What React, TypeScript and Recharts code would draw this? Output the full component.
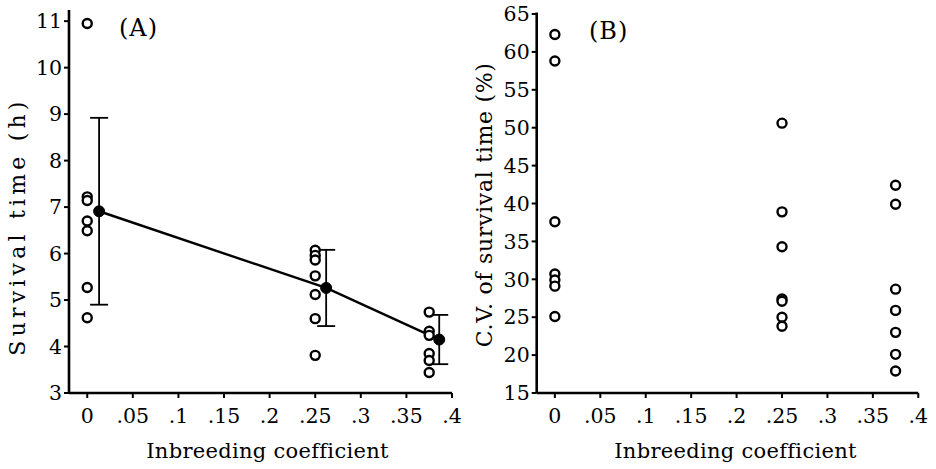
import React from 'react';
import { ComposedChart, Scatter, Line, XAxis, YAxis, ErrorBar, Label } from 'recharts';

const FONT = '"DejaVu Serif", "Liberation Serif", serif';

const xTicks = [0, 0.05, 0.1, 0.15, 0.2, 0.25, 0.3, 0.35, 0.4];
const survivalTicks = [3, 4, 5, 6, 7, 8, 9, 10, 11];
const cvTicks = [15, 20, 25, 30, 35, 40, 45, 50, 55, 60, 65];

const groups = [0, 0.25, 0.375];

// Panel A: survival time (h) of each line
const survival0 = [10.95, 7.22, 7.14, 6.7, 6.49, 5.27, 4.62];
const survival25 = [6.07, 5.96, 5.86, 5.52, 5.12, 4.6, 3.81];
const survival375 = [4.74, 4.33, 4.24, 3.85, 3.7, 3.44];

// Panel A: group means (plotted slightly offset) and error
const meanX = [0.013, 0.262, 0.386];
const meanSurvival = [6.91, 5.26, 4.15];
const meanErr = [2.01, 0.82, 0.53];

// Panel B: C.V. of survival time (%)
const cv0 = [62.3, 58.8, 37.6, 30.7, 29.9, 29.1, 25.1];
const cv25 = [50.6, 38.9, 34.3, 27.4, 27.1, 25.0, 23.8];
const cv375 = [42.4, 39.9, 28.7, 25.9, 23.0, 20.1, 17.9];

const toPoints = (lists: number[][]) =>
  lists.flatMap((vals, i) => vals.map((v) => ({ x: groups[i], y: v })));

const survivalPoints = toPoints([survival0, survival25, survival375]);
const cvPoints = toPoints([cv0, cv25, cv375]);
const meanPoints = meanX.map((x, i) => ({ x, y: meanSurvival[i], err: meanErr[i] }));

const fmtX = (v: number) => (v === 0 ? '0' : String(v).replace(/^0/, ''));

const OpenCircle = (props: any) => {
  const { cx, cy } = props;
  if (cx == null || cy == null) return null;
  return <circle cx={cx} cy={cy} r={4.5} fill="#fff" stroke="#000" strokeWidth={2.4} />;
};

const tickStyle = { fill: '#000', fontSize: 20.5, fontFamily: FONT };
const axisLine = { stroke: '#000', strokeWidth: 2.6 };
const tickLine = { stroke: '#000', strokeWidth: 2 };

const makeYTitle = (text: string, dx: number, dy: number, spacing: number) => (props: any) => {
  const vb = props.viewBox || {};
  const cx = (vb.x || 0) + dx;
  const cy = (vb.y || 0) + (vb.height || 0) / 2 + dy;
  return (
    <text
      x={cx}
      y={cy}
      transform={`rotate(-90, ${cx}, ${cy})`}
      textAnchor="middle"
      dominantBaseline="central"
      fill="#000"
      fontSize={22}
      letterSpacing={spacing}
      fontFamily={FONT}
    >
      {text}
    </text>
  );
};

const makeXTitle = (text: string, dx: number) => (props: any) => {
  const vb = props.viewBox || {};
  const cx = (vb.x || 0) + (vb.width || 0) / 2 + dx;
  const cy = (vb.y || 0) + 65;
  return (
    <text x={cx} y={cy} textAnchor="middle" fill="#000" fontSize={21} letterSpacing={0.3} fontFamily={FONT}>
      {text}
    </text>
  );
};

const tagStyle: React.CSSProperties = {
  position: 'absolute',
  fontFamily: FONT,
  fontSize: 24,
  letterSpacing: 1,
  lineHeight: '26px',
  color: '#000',
  whiteSpace: 'nowrap',
};

export default function App() {
  return (
    <div style={{ position: 'absolute', left: 0, top: 0, width: 936, height: 469, background: '#fff' }}>
      <div style={{ position: 'absolute', left: 0, top: 0 }}>
        <ComposedChart width={468} height={469} margin={{ top: 10, right: 16, bottom: 6, left: 0 }}>
          <XAxis
            type="number"
            dataKey="x"
            domain={[-0.02, 0.4]}
            ticks={xTicks}
            tickFormatter={fmtX}
            allowDataOverflow
            height={70}
            tick={tickStyle}
            tickSize={5}
            tickMargin={10}
            axisLine={axisLine}
            tickLine={tickLine}
          >
            <Label content={makeXTitle('Inbreeding coefficient', 7)} />
          </XAxis>
          <YAxis
            type="number"
            dataKey="y"
            domain={[3, 11.24]}
            ticks={survivalTicks}
            allowDataOverflow
            width={69}
            tick={tickStyle}
            tickSize={5}
            tickMargin={2}
            axisLine={axisLine}
            tickLine={tickLine}
          >
            <Label content={makeYTitle('Survival time (h)', 17, 25, 4.2)} />
          </YAxis>
          <Scatter data={survivalPoints} shape={OpenCircle} isAnimationActive={false} />
          <Line
            data={meanPoints}
            dataKey="y"
            type="linear"
            stroke="#000"
            strokeWidth={2.4}
            dot={{ r: 5.5, fill: '#000', stroke: '#000', strokeWidth: 1 }}
            isAnimationActive={false}
          >
            <ErrorBar dataKey="err" width={9} stroke="#000" strokeWidth={1.8} direction="y" />
          </Line>
        </ComposedChart>
        <div style={{ ...tagStyle, left: 119, top: 15 }}>(A)</div>
      </div>
      <div style={{ position: 'absolute', left: 468, top: 0 }}>
        <ComposedChart width={468} height={469} margin={{ top: 12.5, right: 17.7, bottom: 6, left: 0 }}>
          <XAxis
            type="number"
            dataKey="x"
            domain={[-0.02, 0.4]}
            ticks={xTicks}
            tickFormatter={fmtX}
            allowDataOverflow
            height={70}
            tick={tickStyle}
            tickSize={5}
            tickMargin={10}
            axisLine={axisLine}
            tickLine={tickLine}
          >
            <Label content={makeXTitle('Inbreeding coefficient', 8)} />
          </XAxis>
          <YAxis
            type="number"
            dataKey="y"
            domain={[15, 65.2]}
            ticks={cvTicks}
            allowDataOverflow
            width={68.7}
            tick={tickStyle}
            tickSize={5}
            tickMargin={2}
            axisLine={axisLine}
            tickLine={tickLine}
          >
            <Label content={makeYTitle('C.V. of survival time (%)', 16, 2, 0.7)} />
          </YAxis>
          <Scatter data={cvPoints} shape={OpenCircle} isAnimationActive={false} />
        </ComposedChart>
        <div style={{ ...tagStyle, left: 121, top: 18 }}>(B)</div>
      </div>
    </div>
  );
}
